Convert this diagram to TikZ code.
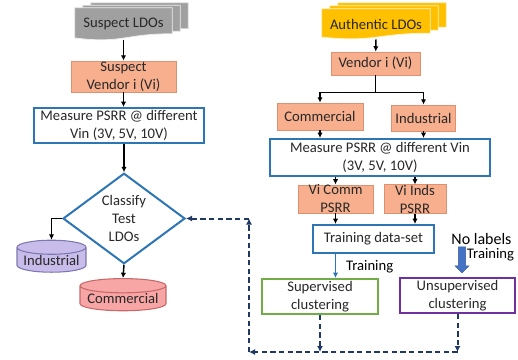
\documentclass[tikz,border=0pt]{standalone}
\usepackage{fontspec}
\setmainfont{Carlito}
\usetikzlibrary{arrows.meta,shapes.geometric,shapes.arrows,calc,backgrounds}

\definecolor{txtgray}{RGB}{40,40,40}
\definecolor{docgray}{RGB}{160,160,160}
\definecolor{docyellow}{RGB}{255,192,0}
\definecolor{salfill}{RGB}{247,175,142}
\definecolor{salline}{RGB}{222,145,112}
\definecolor{boxblue}{RGB}{46,117,182}
\definecolor{boxgreen}{RGB}{112,173,71}
\definecolor{boxpurple}{RGB}{112,48,160}
\definecolor{lavfill}{RGB}{200,188,234}
\definecolor{lavline}{RGB}{125,120,175}
\definecolor{pinkfill}{RGB}{248,165,165}
\definecolor{pinkline}{RGB}{200,105,105}
\definecolor{navy}{RGB}{31,56,100}
\definecolor{blockblue}{RGB}{68,114,196}

% document stack: #1 node, #2 offset, #3 style
\newcommand{\docshape}[3]{%
  \draw[#3] ($(#1.north west)+(#2)$) -- ($(#1.north east)+(#2)$)
    -- ($(#1.north east)!0.8!(#1.south east)+(#2)$)
    .. controls ($(#1.north)!0.8!(#1.south)+(#2)$) and ($(#1.north)!1.11!(#1.south)+(#2)$)
    .. ($(#1.north west)!0.93!(#1.south west)+(#2)$) -- cycle;}

\begin{document}
\begin{tikzpicture}[x=0.75pt,y=-0.75pt,
  font=\fontsize{11}{13.5}\selectfont, text=txtgray,
  doc/.style={rectangle, inner sep=0pt, align=center},
  salmon/.style={rectangle, draw=salline, fill=salfill, line width=0.6pt, align=center, inner sep=0pt},
  bluebox/.style={rectangle, draw=boxblue, fill=white, line width=1.5pt, align=center, inner sep=0pt},
  decide/.style={diamond, draw=boxblue, fill=white, line width=1.5pt, align=center, inner sep=0pt},
  cyl/.style={cylinder, shape border rotate=90, line width=0.8pt, inner sep=0pt},
  arr/.style={line width=1.1pt, -{Latex[length=4pt,width=4pt]}},
  fbk/.style={draw=navy, line width=1.5pt, dash pattern=on 4pt off 2.5pt, -{Latex[length=4.5pt,width=4.5pt]}}
]
\useasboundingbox (0,0) rectangle (518,360);

% suspect side
\node[doc, minimum width=72.75pt, minimum height=24pt] (susdoc) at (123.5,24) {Suspect LDOs};
\node[salmon, minimum width=78.75pt, minimum height=23.25pt] (susvend) at (123.5,76.5) {Suspect\\Vendor i (Vi)};
\node[bluebox, minimum width=127.5pt, minimum height=26.25pt] (susmeas) at (119,125.5) {Measure PSRR @ different\\Vin (3V, 5V, 10V)};
\node[decide, minimum width=91.5pt, minimum height=62.25pt] (classify) at (124,218.5) {Classify\\Test\\LDOs};
\node[cyl, draw=lavline, fill=lavfill, aspect=0.25, minimum width=51.75pt, minimum height=24pt] (indcyl) at (51.5,260) {Industrial};
\node[cyl, draw=pinkline, fill=pinkfill, aspect=0.2, minimum width=64.5pt, minimum height=23.25pt] (comcyl) at (123,298.5) {Commercial};

% authentic side
\node[doc, minimum width=81pt, minimum height=22.5pt] (authdoc) at (376,24) {Authentic LDOs};
\node[salmon, minimum width=66.75pt, minimum height=17.25pt] (vend) at (375.5,63.5) {Vendor i (Vi)};
\node[salmon, minimum width=64.5pt, minimum height=20.25pt] (comm) at (320,116.5) {Commercial};
\node[salmon, minimum width=48pt, minimum height=19.5pt] (inds) at (423.5,118) {Industrial};
\node[bluebox, minimum width=165pt, minimum height=27.75pt] (meas) at (380,157.5) {Measure PSRR @ different Vin\\(3V, 5V, 10V)};
\node[salmon, minimum width=56.25pt, minimum height=21pt] (vicomm) at (335.5,199) {Vi Comm\\PSRR};
\node[salmon, minimum width=46.5pt, minimum height=21pt] (viinds) at (415,199) {Vi Inds\\PSRR};
\node[bluebox, minimum width=90.75pt, minimum height=21pt] (train) at (373.5,239) {Training data-set};
\node[bluebox, draw=boxgreen, minimum width=87pt, minimum height=26.25pt] (superv) at (320,296.5) {Supervised\\clustering};
\node[bluebox, draw=boxpurple, minimum width=86.25pt, minimum height=26.25pt] (unsup) at (457.5,295.5) {Unsupervised\\clustering};
\node[text=black, font=\fontsize{12}{14}\selectfont] (nolab) at (481.5,239) {No labels};
\node[single arrow, shape border rotate=270, fill=blockblue, draw=blockblue!80!black, line width=0.4pt,
  inner sep=2.5pt, minimum width=10pt, single arrow head extend=2.5pt, minimum height=19.5pt] (blk) at (462,258) {};
\node[text=black] (trnlab) at (490.5,255) {Training};

% document stacks
\begin{scope}[on background layer]
  \docshape{susdoc}{16,-5}{fill=docgray, draw=white!85!gray, line width=0.6pt}
  \docshape{susdoc}{8,-2.5}{fill=docgray, draw=white!85!gray, line width=0.6pt}
  \docshape{susdoc}{0,0}{fill=docgray, draw=white!85!gray, line width=0.6pt}
  \docshape{authdoc}{16,-6}{fill=docyellow, draw=white!80!docyellow, line width=0.6pt}
  \docshape{authdoc}{8,-3}{fill=docyellow, draw=white!80!docyellow, line width=0.6pt}
  \docshape{authdoc}{0,0}{fill=docyellow, draw=white!80!docyellow, line width=0.6pt}
\end{scope}

% suspect flow
\draw[arr] (susdoc.south) -- (susvend);
\draw[arr] (susvend) -- (susvend |- susmeas.north);
\draw[arr] (classify.north |- susmeas.south) -- (classify.north);
\draw[arr] (classify.west) -| (indcyl.north);
\draw[arr] (classify.south) -- (comcyl.north);

% authentic flow
\draw[arr] (authdoc.south) -- (vend);
\draw[line width=1.1pt] (vend.south) -- ++(0,17) coordinate (split);
\draw[arr] (split) -| (comm.north);
\draw[arr] (split) -| (inds.north);
\draw[arr] (comm) -- (comm |- meas.north);
\draw[arr] (inds) -- (inds |- meas.north);
\draw[arr] (vicomm.north |- meas.south) -- (vicomm);
\draw[arr] (viinds.north |- meas.south) -- (viinds);
\draw[arr] (vicomm) -- (vicomm |- train.north);
\draw[arr] (viinds) -- (viinds |- train.north);
\draw[boxblue, line width=1.2pt, -{Latex[length=4pt,width=4pt]}] (train.south -| vicomm) -- (superv.north -| vicomm)
  node[pos=0.55, right=4pt, text=black] {Training};

% feedback
\coordinate (cbl) at (249,352);
\draw[fbk] (superv.south) -- (superv.south |- cbl);
\draw[fbk] (unsup.south) -- (unsup.south |- cbl);
\draw[fbk] (unsup.south |- cbl) -- (cbl);
\draw[fbk] (cbl) -- (cbl |- classify.east);
\draw[fbk] (cbl |- classify.east) -- (classify.east);

\end{tikzpicture}
\end{document}
